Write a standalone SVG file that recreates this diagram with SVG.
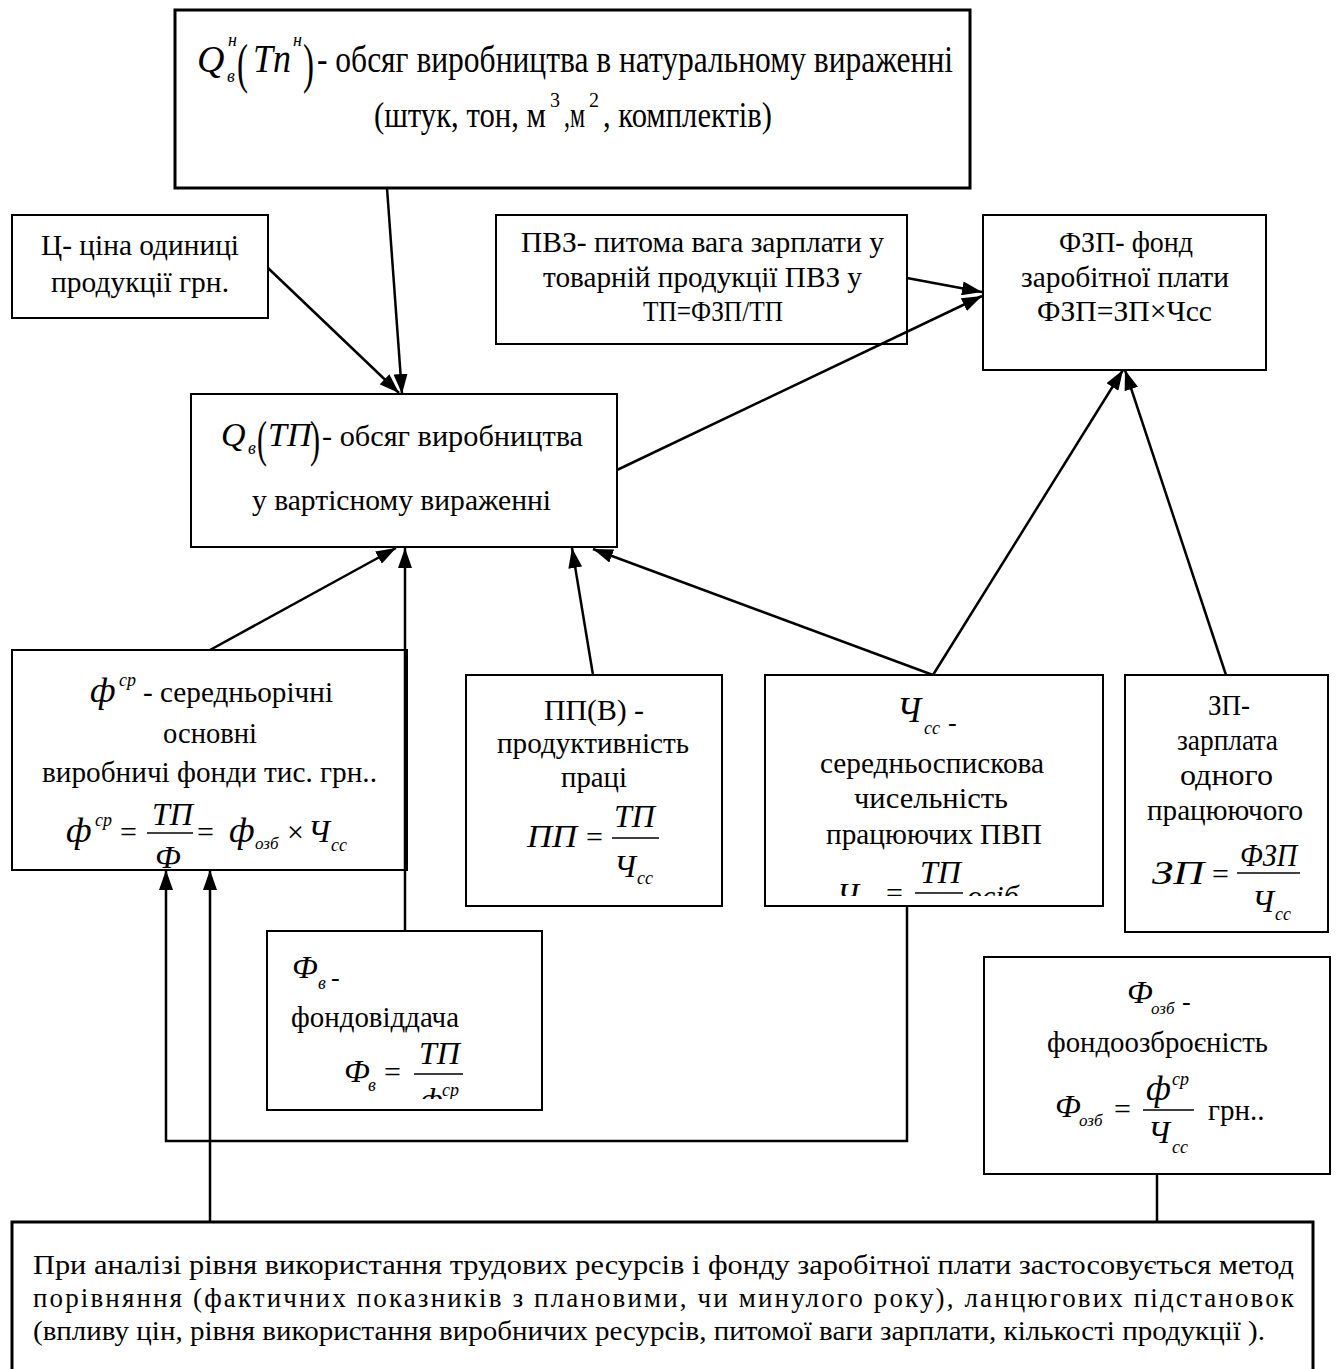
<svg xmlns="http://www.w3.org/2000/svg" width="1336" height="1369" viewBox="0 0 1336 1369">
<defs>
<marker id="ah" markerUnits="userSpaceOnUse" viewBox="0 0 20 14" markerWidth="20" markerHeight="14" refX="20" refY="7" orient="auto">
<path d="M0,0 L20,7 L0,14 z" fill="#000"/>
</marker>
<clipPath id="clipCh"><rect x="765" y="675" width="338" height="221"/></clipPath>
<clipPath id="clipFv"><rect x="267" y="931" width="275" height="168"/></clipPath>
</defs>
<style>
.box{fill:#fff;stroke:#000;stroke-width:2}
.thick{stroke-width:3}
.t{font-family:"Liberation Serif","Times New Roman",serif;font-size:29px;fill:#000}
.m{font-family:"Liberation Serif","Times New Roman",serif;font-style:italic;font-size:32px;fill:#000}
.s{font-family:"Liberation Serif","Times New Roman",serif;font-style:italic;font-size:18px;fill:#000}
.c{stroke:#000;stroke-width:2.5;fill:none}
.a{marker-end:url(#ah)}
.fl{stroke:#000;stroke-width:1.5}
</style>
<rect width="1336" height="1369" fill="#fff"/>

<g id="node-top">
<rect class="box thick" x="175" y="10" width="795" height="178"/>
<text class="m" x="197" y="72" style="font-size:38px">Q</text>
<text class="s" x="228" y="46">н</text>
<text class="s" x="227" y="82">в</text>
<text class="t" x="237" y="82" style="font-size:54px" textLength="11" lengthAdjust="spacingAndGlyphs">(</text>
<text class="m" x="253" y="72" style="font-size:40px" textLength="38" lengthAdjust="spacingAndGlyphs">Tn</text>
<text class="s" x="293" y="46">н</text>
<text class="t" x="303" y="82" style="font-size:54px" textLength="11" lengthAdjust="spacingAndGlyphs">)</text>
<text class="t" x="317" y="72" style="font-size:37px" textLength="636" lengthAdjust="spacingAndGlyphs">- обсяг виробництва в натуральному вираженні</text>
<text class="t" x="374" y="127" style="font-size:36px" textLength="172" lengthAdjust="spacingAndGlyphs">(штук, тон, м</text>
<text class="t" x="550" y="107" style="font-size:20px">3</text>
<text class="t" x="564" y="127" style="font-size:36px" textLength="21" lengthAdjust="spacingAndGlyphs">,м</text>
<text class="t" x="589" y="107" style="font-size:20px">2</text>
<text class="t" x="603" y="127" style="font-size:36px" textLength="169" lengthAdjust="spacingAndGlyphs">, комплектів)</text>
</g>

<g id="node-price">
<rect class="box" x="12" y="215" width="256" height="103"/>
<text class="t" x="41" y="255" textLength="198" lengthAdjust="spacingAndGlyphs">Ц- ціна одиниці</text>
<text class="t" x="51" y="292" textLength="178" lengthAdjust="spacingAndGlyphs">продукції грн.</text>
</g>

<g id="node-pvz">
<rect class="box" x="496" y="215" width="411" height="129"/>
<text class="t" x="521" y="252" textLength="363" lengthAdjust="spacingAndGlyphs">ПВЗ- питома вага зарплати у</text>
<text class="t" x="543" y="287" textLength="319" lengthAdjust="spacingAndGlyphs">товарній продукції ПВЗ у</text>
<text class="t" x="643" y="321" textLength="140" lengthAdjust="spacingAndGlyphs">ТП=ФЗП/ТП</text>
</g>

<g id="node-fzp">
<rect class="box" x="983" y="215" width="283" height="155"/>
<text class="t" x="1059" y="252" textLength="134" lengthAdjust="spacingAndGlyphs">ФЗП- фонд</text>
<text class="t" x="1021" y="287" textLength="208" lengthAdjust="spacingAndGlyphs">заробітної плати</text>
<text class="t" x="1037" y="321" textLength="175" lengthAdjust="spacingAndGlyphs">ФЗП=ЗП×Чсс</text>
</g>

<g id="node-q">
<rect class="box" x="191" y="394" width="426" height="153"/>
<text class="m" x="221" y="446" style="font-size:34px">Q</text>
<text class="s" x="248" y="454">в</text>
<text class="t" x="257" y="456" style="font-size:50px" textLength="10" lengthAdjust="spacingAndGlyphs">(</text>
<text class="m" x="268" y="446" style="font-size:34px">ТП</text>
<text class="t" x="310" y="456" style="font-size:50px" textLength="10" lengthAdjust="spacingAndGlyphs">)</text>
<text class="t" x="322" y="446" style="font-size:30px" textLength="261" lengthAdjust="spacingAndGlyphs">- обсяг виробництва</text>
<text class="t" x="252" y="510" style="font-size:30px" textLength="299" lengthAdjust="spacingAndGlyphs">у вартісному вираженні</text>
</g>

<g id="node-fsr">
<rect class="box" x="12" y="650" width="395" height="220"/>
<text class="m" x="90" y="702" style="font-size:36px">ф</text>
<text class="s" x="119" y="686">ср</text>
<text class="t" x="143" y="702" textLength="190" lengthAdjust="spacingAndGlyphs">- середньорічні</text>
<text class="t" x="163" y="743" textLength="94" lengthAdjust="spacingAndGlyphs">основні</text>
<text class="t" x="42" y="782" textLength="335" lengthAdjust="spacingAndGlyphs">виробничі фонди тис. грн..</text>
<text class="m" x="66" y="842" style="font-size:36px">ф</text>
<text class="s" x="95" y="826">ср</text>
<text class="t" x="120" y="842" style="font-size:30px">=</text>
<text class="m" x="152" y="825">ТП</text>
<line class="fl" x1="147" y1="833" x2="193" y2="833"/>
<text class="m" x="155" y="868">Ф</text>
<text class="t" x="197" y="842" style="font-size:30px">=</text>
<text class="m" x="229" y="842" style="font-size:36px">ф</text>
<text class="s" x="255" y="849" style="font-size:17px">озб</text>
<text class="t" x="287" y="842" style="font-size:30px">×</text>
<text class="m" x="308" y="842">Ч</text>
<text class="s" x="331" y="851">сс</text>
</g>

<g id="node-pp">
<rect class="box" x="466" y="675" width="256" height="231"/>
<text class="t" x="544" y="720" textLength="100" lengthAdjust="spacingAndGlyphs">ПП(В) -</text>
<text class="t" x="497" y="753" textLength="192" lengthAdjust="spacingAndGlyphs">продуктивність</text>
<text class="t" x="561" y="787" textLength="66" lengthAdjust="spacingAndGlyphs">праці</text>
<text class="m" x="527" y="847" textLength="50" lengthAdjust="spacingAndGlyphs">ПП</text>
<text class="t" x="586" y="847" style="font-size:30px">=</text>
<text class="m" x="614" y="827">ТП</text>
<line class="fl" x1="612" y1="838" x2="659" y2="838"/>
<text class="m" x="614" y="877">Ч</text>
<text class="s" x="637" y="884">сс</text>
</g>

<g id="node-chss">
<rect class="box" x="765" y="675" width="338" height="231"/>
<text class="m" x="897" y="722" style="font-size:35px">Ч</text>
<text class="s" x="924" y="734">сс</text>
<text class="t" x="948" y="731" style="font-size:26px">-</text>
<text class="t" x="820" y="773" textLength="224" lengthAdjust="spacingAndGlyphs">середньоспискова</text>
<text class="t" x="854" y="808" textLength="154" lengthAdjust="spacingAndGlyphs">чисельність</text>
<text class="t" x="826" y="844" textLength="216" lengthAdjust="spacingAndGlyphs">працюючих ПВП</text>
<g clip-path="url(#clipCh)">
<text class="m" x="837" y="905">Ч</text>
<text class="t" x="886" y="903" style="font-size:30px">=</text>
<text class="m" x="920" y="883">ТП</text>
<line class="fl" x1="915" y1="893" x2="963" y2="893"/>
<text class="m" x="967" y="906" style="font-size:30px">осіб</text>
</g>
</g>

<g id="node-zp">
<rect class="box" x="1125" y="675" width="203" height="257"/>
<text class="t" x="1208" y="715" textLength="42" lengthAdjust="spacingAndGlyphs">ЗП-</text>
<text class="t" x="1177" y="750" textLength="101" lengthAdjust="spacingAndGlyphs">зарплата</text>
<text class="t" x="1180" y="785" textLength="93" lengthAdjust="spacingAndGlyphs">одного</text>
<text class="t" x="1147" y="820" textLength="156" lengthAdjust="spacingAndGlyphs">працюючого</text>
<text class="m" x="1152" y="884" style="font-size:34px" textLength="52" lengthAdjust="spacingAndGlyphs">ЗП</text>
<text class="t" x="1212" y="884" style="font-size:30px">=</text>
<text class="m" x="1240" y="866" textLength="57" lengthAdjust="spacingAndGlyphs">ФЗП</text>
<line class="fl" x1="1237" y1="873" x2="1300" y2="873"/>
<text class="m" x="1252" y="912">Ч</text>
<text class="s" x="1275" y="920">сс</text>
</g>

<g id="node-fv">
<rect class="box" x="267" y="931" width="275" height="179"/>
<text class="m" x="292" y="978">Ф</text>
<text class="s" x="318" y="989">в</text>
<text class="t" x="331" y="986" style="font-size:26px">-</text>
<text class="t" x="291" y="1027" textLength="168" lengthAdjust="spacingAndGlyphs">фондовіддача</text>
<text class="m" x="344" y="1082">Ф</text>
<text class="s" x="368" y="1091">в</text>
<text class="t" x="384" y="1082" style="font-size:30px">=</text>
<text class="m" x="419" y="1064">ТП</text>
<line class="fl" x1="414" y1="1074" x2="463" y2="1074"/>
<g clip-path="url(#clipFv)">
<text class="m" x="420" y="1110">ф</text>
<text class="s" x="442" y="1096">ср</text>
</g>
</g>

<g id="node-fozb">
<rect class="box" x="984" y="957" width="346" height="217"/>
<text class="m" x="1127" y="1003">Ф</text>
<text class="s" x="1151" y="1014" style="font-size:17px">озб</text>
<text class="t" x="1182" y="1010" style="font-size:26px">-</text>
<text class="t" x="1047" y="1052" textLength="221" lengthAdjust="spacingAndGlyphs">фондоозброєність</text>
<text class="m" x="1055" y="1117">Ф</text>
<text class="s" x="1079" y="1126" style="font-size:17px">озб</text>
<text class="t" x="1114" y="1119" style="font-size:30px">=</text>
<text class="m" x="1146" y="1100" style="font-size:35px">ф</text>
<text class="s" x="1172" y="1085">ср</text>
<line class="fl" x1="1143" y1="1110" x2="1194" y2="1110"/>
<text class="m" x="1148" y="1143">Ч</text>
<text class="s" x="1172" y="1153">сс</text>
<text class="t" x="1208" y="1120">грн..</text>
</g>

<g id="node-bottom">
<rect class="box thick" x="12" y="1222" width="1301" height="170"/>
<text class="t" x="33" y="1274" style="font-size:27px" textLength="1261" lengthAdjust="spacingAndGlyphs">При аналізі рівня використання трудових ресурсів і фонду заробітної плати застосовується метод</text>
<text class="t" x="33" y="1307" style="font-size:27px" textLength="1261" lengthAdjust="spacing">порівняння (фактичних показників з плановими, чи минулого року), ланцюгових підстановок</text>
<text class="t" x="33" y="1340" style="font-size:27px" textLength="1232" lengthAdjust="spacingAndGlyphs">(впливу цін, рівня використання виробничих ресурсів, питомої ваги зарплати, кількості продукції ).</text>
</g>

<g id="connectors">
<line class="c a" x1="387" y1="188" x2="402" y2="394"/>
<line class="c a" x1="268" y1="268" x2="399" y2="393"/>
<line class="c a" x1="907" y1="278" x2="982" y2="292"/>
<line class="c a" x1="617" y1="470" x2="982" y2="296"/>
<line class="c a" x1="933" y1="675" x2="1123" y2="370"/>
<line class="c a" x1="1226" y1="675" x2="1125" y2="370"/>
<line class="c a" x1="210" y1="650" x2="396" y2="548"/>
<line class="c a" x1="405" y1="931" x2="405" y2="548"/>
<line class="c a" x1="593" y1="675" x2="572" y2="548"/>
<line class="c a" x1="933" y1="675" x2="593" y2="549"/>
<polyline class="c a" points="907,906 907,1141 166,1141 166,870"/>
<line class="c a" x1="210" y1="1222" x2="210" y2="870"/>
<line class="c" x1="1157" y1="1174" x2="1157" y2="1222"/>
</g>
</svg>
